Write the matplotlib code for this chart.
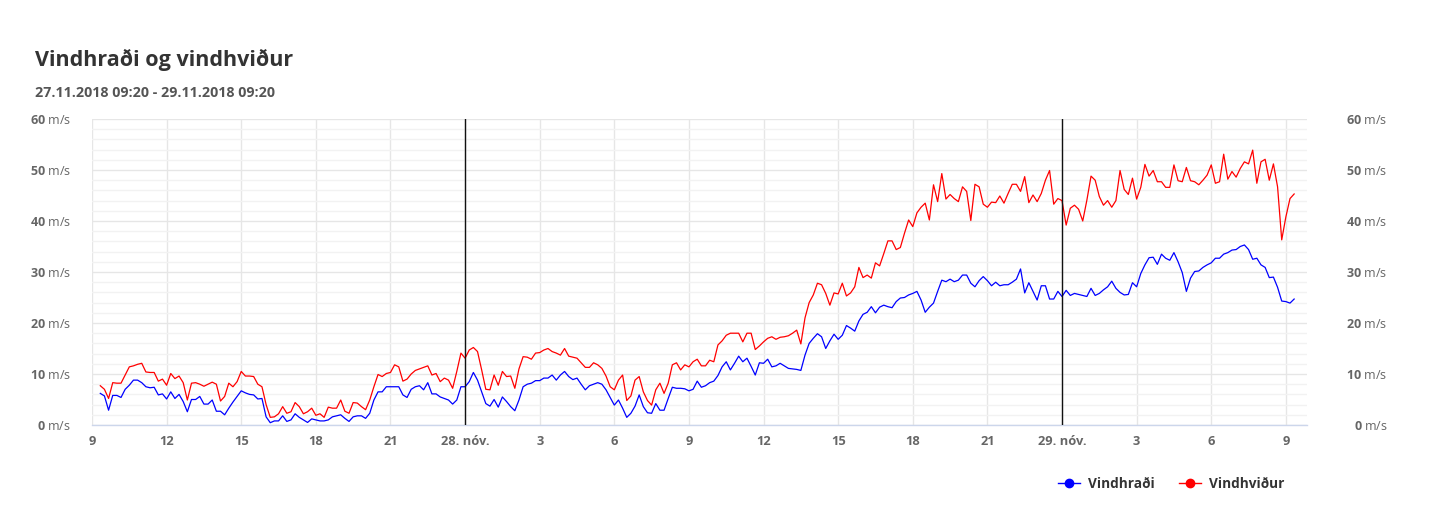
import matplotlib.pyplot as plt
import matplotlib.ticker as mticker
import pandas as pd
from matplotlib.lines import Line2D

plt.rcParams['font.family'] = ['Open Sans', 'DejaVu Sans']
plt.rcParams['mathtext.fontset'] = 'custom'
plt.rcParams['mathtext.rm'] = 'Open Sans'
plt.rcParams['mathtext.bf'] = 'Open Sans:bold'

# 10 minute readings, 27.11.2018 09:20 - 29.11.2018 09:20 (m/s)
start = '2018-11-27 09:20'

vindhradi = [
    6.2, 5.7, 2.9, 5.8, 5.8, 5.4, 7.0, 7.8, 8.8, 8.8, 8.3, 7.5, 7.3, 7.4, 5.9, 6.1, 5.1, 6.5, 5.2, 6.0,
    4.6, 2.6, 5.0, 5.0, 5.6, 4.1, 4.1, 4.9, 2.7, 2.7, 2.0, 3.3, 4.5, 5.6, 6.7, 6.3, 6.0,
    5.9, 5.1, 5.2, 1.6, 0.45, 0.8, 0.8, 1.8, 0.7, 1.0, 2.2, 1.5, 1.0, 0.5, 1.2, 1.0, 0.8, 0.8, 1.0,
    1.6, 1.8, 2.0, 1.3, 0.7, 1.6, 1.8, 1.8, 1.3, 2.3, 4.9, 6.5, 6.5, 7.5, 7.5, 7.5, 7.5, 5.9, 5.4,
    7.0, 7.5, 7.7, 6.9, 8.3, 6.1, 6.1, 5.5, 5.2, 4.9, 4.1, 4.9, 7.5, 7.5, 8.5, 10.3, 8.8, 6.5, 4.2, 3.7,
    5.0, 3.5, 5.5, 4.6, 3.6, 2.8, 4.9, 7.5, 8.0, 8.2, 8.7, 8.7, 9.2, 9.2, 9.8, 8.8, 9.8, 10.5,
    9.5, 8.9, 9.2, 8.0, 6.9, 7.7, 8.0, 8.3, 8.0, 6.9, 5.4, 3.9, 4.9, 3.3, 1.5, 2.3, 3.7, 5.9, 3.6, 2.4,
    2.3, 4.2, 2.9, 2.9, 5.2, 7.4, 7.2, 7.2, 7.1, 6.7, 7.0, 8.6, 7.4, 7.7, 8.3, 8.6, 9.7,
    11.4, 12.4, 10.8, 12.1, 13.5, 12.4, 13.1, 11.5, 9.8, 12.2, 12.1, 12.9, 11.4, 11.6, 12.1, 11.6,
    11.1, 11.0, 10.9, 10.7, 13.7, 16.0, 17.0, 17.9,
    17.3, 15.0, 16.5, 17.8, 16.8, 17.6, 19.5, 19.0, 18.4, 20.4,
    21.7, 22.1, 23.2, 22.0, 23.1, 23.5, 23.2, 23.0, 24.2, 24.9,
    25.0, 25.5, 25.8, 26.2, 24.5, 22.1, 23.1, 23.9, 26.2, 28.4,
    28.1, 28.6, 28.1, 28.4, 29.4, 29.4, 27.8, 27.1, 28.3, 29.1,
    28.3, 27.3, 28.0, 27.3, 27.5, 27.5, 28.0, 28.6, 30.6, 25.9,
    27.9, 26.2, 24.5, 27.3, 27.3, 24.7, 24.7, 26.2, 25.2, 26.4,
    25.4, 25.8, 25.6, 25.4, 25.2, 26.8, 25.4, 25.8, 26.5, 27.1,
    28.2, 26.8, 26.0, 25.5, 25.6, 27.9, 27.1, 29.7, 31.4, 32.8,
    32.9, 31.5, 33.5, 32.7, 32.3, 33.8, 32.0, 29.9, 26.2, 28.8,
    30.1, 30.2, 30.9, 31.4, 31.8, 32.7, 32.7, 33.5, 33.8, 34.3,
    34.4, 35.0, 35.3, 34.4, 32.5, 32.7, 31.4, 30.9, 28.9, 29.0,
    27.0, 24.3, 24.2, 23.9, 24.7,
]

vindhvidur = [
    7.7, 7.0, 5.2, 8.3, 8.2, 8.2, 9.8, 11.4, 11.6, 11.9, 12.1, 10.4, 10.3, 10.3, 8.6, 9.0, 7.8, 10.1, 9.1, 9.6,
    8.3, 4.9, 8.2, 8.3, 8.0, 7.6, 8.0, 8.4, 8.0, 4.7, 5.6, 8.2, 7.5, 8.5, 10.5, 9.6, 9.6,
    9.5, 8.0, 7.5, 4.0, 1.5, 1.6, 2.2, 3.6, 2.3, 2.6, 4.4, 3.6, 2.2, 2.6, 3.3, 1.9, 2.2, 1.5, 3.5,
    3.3, 3.3, 4.9, 2.7, 2.3, 4.4, 4.3, 3.6, 3.0, 4.9, 7.5, 9.9, 9.5, 10.1, 10.3, 11.8, 11.4, 8.6, 9.0,
    10.0, 10.7, 11.0, 11.3, 11.6, 9.8, 10.1, 8.5, 9.2, 8.8, 7.2, 10.5, 14.1, 13.1, 14.7, 15.2, 14.4, 10.8,
    7.0, 6.9, 9.8, 7.8, 10.5, 9.5, 9.6, 7.2, 11.0, 13.4, 13.3, 12.9, 14.1, 14.2, 14.7, 15.0, 14.4, 14.1,
    13.7, 15.0,
    13.5, 13.3, 13.1, 12.2, 11.3, 11.3, 12.2, 11.8, 11.1, 9.6, 7.5, 6.9, 8.8, 9.8, 4.8, 5.7, 8.8, 9.5,
    6.5, 4.8, 3.9, 6.9, 8.2, 6.2, 8.2, 11.8, 12.2, 10.8, 11.8, 11.4, 12.4, 12.9, 11.6, 11.6, 12.7, 12.4,
    15.7,
    16.5, 17.6, 18.0, 18.0, 18.0, 16.3, 18.0, 18.0, 14.8, 15.5, 16.3, 17.0, 17.3, 16.8, 17.2, 17.3,
    17.5, 18.0, 18.6, 15.9, 21.0, 24.0, 25.5, 27.8,
    27.5, 25.8, 23.5, 25.9, 25.7, 27.8, 25.3, 25.9, 27.1, 30.9,
    28.9, 29.4, 28.8, 31.8, 31.2, 33.6, 36.1, 36.1, 34.4, 34.8,
    37.6, 40.2, 38.9, 41.6, 42.7, 43.5, 40.2, 47.1, 43.8, 49.3,
    44.3, 45.2, 44.4, 43.8, 46.7, 45.8, 40.1, 47.2, 46.7, 43.3,
    42.7, 43.7, 43.6, 44.9, 43.5, 45.4, 47.2, 47.2, 45.8, 48.7,
    43.6, 45.1, 43.8, 45.4, 48.0, 49.9, 43.3, 44.4, 44.0, 39.2,
    42.5, 43.1, 42.3, 40.0, 44.1, 48.8, 48.0, 44.8, 43.1, 44.0,
    42.7, 44.0, 49.9, 46.2, 45.2, 48.4, 44.3, 46.6, 51.1, 48.8,
    49.9, 47.7, 47.7, 46.6, 46.6, 51.0, 47.9, 47.7, 50.5, 47.9,
    47.7, 47.1, 48.0, 49.0, 51.0, 47.4, 47.7, 53.1, 48.2, 49.7,
    48.6, 50.3, 51.6, 51.2, 53.9, 47.4, 51.6, 52.1, 48.0, 51.2,
    46.7, 36.3, 40.8, 44.4, 45.3,
]

series_names = ['Vindhraði', 'Vindhviður']
series_colors = ['#0000ff', '#ff0000']
months = {11: 'nóv.'}
yticks = [0, 10, 20, 30, 40, 50, 60]


def main():
    times = pd.date_range(start, periods=len(vindhradi), freq='10min')

    fig = plt.figure(figsize=(14.55, 5.18), dpi=100)
    ax = fig.add_axes([92 / 1455, 93 / 518, 1215 / 1455, 306 / 518])

    ax.plot(times, vindhradi, color=series_colors[0], lw=0.9, zorder=3)
    ax.plot(times, vindhvidur, color=series_colors[1], lw=0.9, zorder=3)

    x0 = pd.Timestamp('2018-11-27 09:00')
    ax.set_xlim(x0, pd.Timestamp('2018-11-29 09:51'))
    ax.set_ylim(0, 60)

    # x ticks every 3 hours, day name at midnight
    xticks = pd.date_range(x0, '2018-11-29 09:00', freq='3h')
    labels = []
    for t in xticks:
        if t.hour == 0:
            labels.append(f'{t.day}. {months[t.month]}')
        else:
            labels.append(str(t.hour))
    ax.set_xticks(xticks)
    ax.set_xticklabels(labels, fontsize=9.3, fontweight='bold', color='#666666')
    ax.tick_params(axis='x', length=0, pad=7)

    # midnight lines
    for t in xticks:
        if t.hour == 0:
            ax.axvline(t, color='#111111', lw=1.0, zorder=4)

    ylabels = [r'$\mathbf{%d}$ m/s' % v for v in yticks]
    ax.set_yticks(yticks)
    ax.set_yticklabels(ylabels)
    ax.yaxis.set_minor_locator(mticker.MultipleLocator(2))
    ax.tick_params(axis='y', which='both', length=0, pad=15, labelsize=9, labelcolor='#666666')

    ax.grid(axis='y', which='minor', color='#f2f2f2', lw=1.0, zorder=0)
    ax.grid(axis='y', which='major', color='#e6e6e6', lw=1.0, zorder=0)
    ax.grid(axis='x', which='major', color='#e6e6e6', lw=1.0, zorder=0)

    for s in ['top', 'left', 'right']:
        ax.spines[s].set_visible(False)
    ax.spines['bottom'].set_color('#ccd6eb')
    ax.spines['bottom'].set_linewidth(1.0)

    # same labels on the right side, right aligned
    ax2 = ax.twinx()
    ax2.set_ylim(0, 60)
    ax2.set_yticks(yticks)
    ax2.set_yticklabels(ylabels, ha='right')
    ax2.tick_params(axis='y', length=0, pad=58, labelsize=9, labelcolor='#666666')
    for s in ax2.spines.values():
        s.set_visible(False)

    fig.text(35 / 1455, 1 - 60 / 518, 'Vindhraði og vindhviður', fontsize=15.5,
             fontweight='bold', color='#333333', va='center')
    fig.text(35 / 1455, 1 - 93 / 518, '27.11.2018 09:20 - 29.11.2018 09:20', fontsize=10.3,
             fontweight='bold', color='#555555', va='center')

    handles = [Line2D([], [], color=c, lw=1.0, marker='o', markersize=6) for c in series_colors]
    leg = fig.legend(handles, series_names, loc='center right',
                     bbox_to_anchor=(1297 / 1455, 34 / 518), ncol=2, frameon=False,
                     handlelength=1.6, columnspacing=1.8, handletextpad=0.6,
                     prop={'weight': 'bold', 'size': 9.8})
    for txt in leg.get_texts():
        txt.set_color('#333333')

    fig.savefig('out.png', dpi=100)


if __name__ == '__main__':
    main()
